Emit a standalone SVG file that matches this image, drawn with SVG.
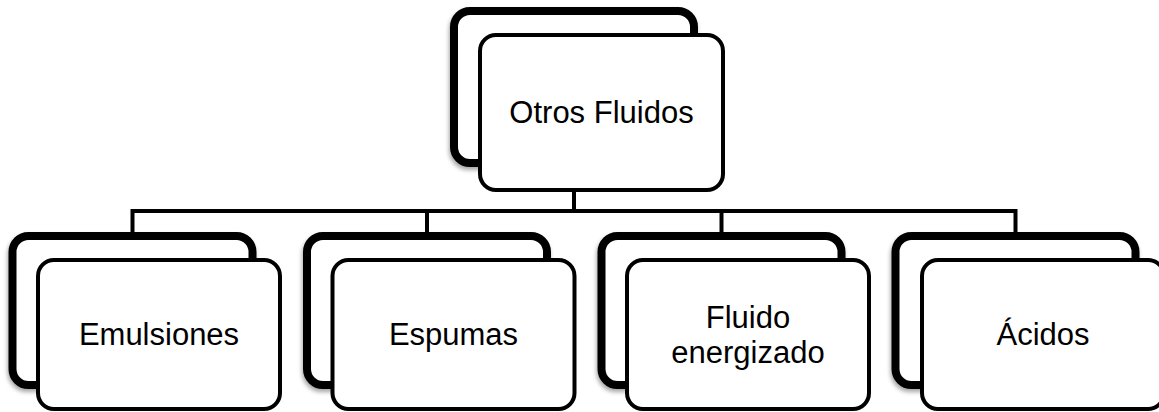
<svg xmlns="http://www.w3.org/2000/svg" width="1159" height="412" viewBox="0 0 1159 412">
  <defs>
    <filter id="sh" x="-10%" y="-10%" width="120%" height="125%">
      <feDropShadow dx="-1" dy="3" stdDeviation="2" flood-color="#000" flood-opacity="0.35"/>
    </filter>
    <style>
      .back{fill:#fff;stroke:#000;stroke-width:8;filter:url(#sh)}
      .front{fill:#fff;stroke:#000;stroke-width:4}
      .lbl{font-family:"Liberation Sans",Arial,sans-serif;font-size:31px;fill:#000;text-anchor:middle}
      .conn{fill:none;stroke:#000;stroke-width:4}
    </style>
  </defs>
  <rect width="1159" height="412" fill="#fff"/>
  <g id="connectors">
    <path class="conn" d="M574,190 V211"/>
    <path class="conn" d="M132.5,236 V211 H1015.5 V236"/>
    <path class="conn" d="M427,211 V236"/>
    <path class="conn" d="M721.5,211 V236"/>
  </g>
  <g id="otros-fluidos">
    <rect class="back" x="454" y="11" width="240" height="152" rx="16"/>
    <rect class="front" x="480" y="35" width="243" height="155" rx="16"/>
    <text class="lbl" x="601.5" y="123">Otros Fluidos</text>
  </g>
  <g id="emulsiones">
    <rect class="back" x="12.5" y="236" width="240" height="149" rx="16"/>
    <rect class="front" x="38" y="260" width="242" height="149" rx="16"/>
    <text class="lbl" x="159" y="345">Emulsiones</text>
  </g>
  <g id="espumas">
    <rect class="back" x="307" y="236" width="240" height="149" rx="16"/>
    <rect class="front" x="332.5" y="260" width="242" height="149" rx="16"/>
    <text class="lbl" x="453.5" y="345">Espumas</text>
  </g>
  <g id="fluido-energizado">
    <rect class="back" x="601.5" y="236" width="240" height="149" rx="16"/>
    <rect class="front" x="627" y="260" width="242" height="149" rx="16"/>
    <text class="lbl" x="748" y="328">Fluido</text>
    <text class="lbl" x="748" y="363">energizado</text>
  </g>
  <g id="acidos">
    <rect class="back" x="895.5" y="236" width="240" height="149" rx="16"/>
    <rect class="front" x="922" y="260" width="242" height="149" rx="16"/>
    <text class="lbl" x="1043" y="345">Ácidos</text>
  </g>
</svg>
